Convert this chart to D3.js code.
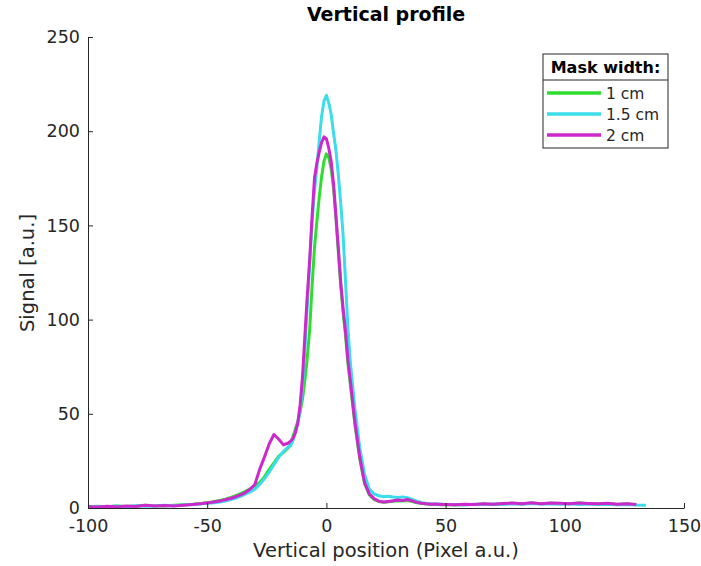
<!DOCTYPE html>
<html>
<head>
<meta charset="utf-8">
<script src="https://cdn.jsdelivr.net/npm/d3@7"></script>
<style>
  body { margin: 0; background: white; }
  svg text { font-family: "DejaVu Sans", sans-serif; fill: #262626; }
</style>
</head>
<body>
<div class="chart"></div>
<script>
// pixel positions shared by the three profiles
const positions = [
  -100, -96, -92, -88, -84, -80, -76, -72, -68, -64, -60, -56, -52, -48, -44,
  -42, -40, -38, -36, -34, -32, -30, -28, -26, -24, -22, -20, -18, -16,
  -15, -14, -13, -12, -11, -10, -9, -8, -7, -6, -5, -4, -3, -2, -1, 0, 1, 2, 3, 4, 5, 6, 7, 8, 9, 10,
  12, 14, 16, 18, 20, 22, 24, 26, 28, 30, 32, 34, 36, 38, 40, 42, 44, 46, 48, 50,
  54, 58, 62, 66, 70, 74, 78, 82, 86, 90, 94, 98, 102, 106, 110, 114, 118, 122, 126, 130, 134
];

const mask1cm = [
  0.6, 0.9, 0.7, 1.1, 0.8, 1.0, 1.5, 1.2, 1.1, 1.4, 1.7, 2.0, 2.5, 3.2, 4.2,
  4.8, 5.6, 6.6, 7.6, 8.8, 10.2, 11.8, 13.5, 16.5, 20.5, 24, 27.5, 29.5, 32,
  34, 38, 42, 46, 51, 58, 68, 80, 95, 118, 138, 152, 165, 176, 184, 188, 186, 180, 170, 154, 136, 118, 104, 92, 77, 66,
  44, 26, 13, 7, 4.5, 3.5, 3.0, 3.3, 3.6, 3.8, 3.7, 4.0, 3.4, 2.8, 2.4, 2.1, 1.9, 2.0, 1.7, 1.8,
  1.6, 1.9, 1.8, 2.1, 1.9, 2.3, 2.5, 2.1, 2.6, 2.2, 2.5, 2.4, 2.2, 2.6, 2.3, 2.1, 2.4, 1.9, 2.2, 1.7, null
];

const mask15cm = [
  0.5, 0.8, 0.6, 1.0, 0.7, 1.2, 0.9, 1.1, 1.4, 1.2, 1.6, 1.8, 2.2, 2.6, 3.3,
  3.8, 4.5, 5.3, 6.2, 7.3, 8.5, 10, 12.5, 15.5, 19, 23, 27, 30, 32.5,
  33, 36, 40, 45, 52, 65, 85, 108, 130, 152, 168, 181, 195, 208, 216, 219, 215, 209, 199, 190, 177, 162, 145, 121, 96, 78,
  52, 32, 18, 10, 7.5, 6.5, 6.0, 6.2, 5.8, 5.6, 5.9, 5.5, 4.6, 3.6, 2.8, 2.4, 2.2, 2.0, 2.1, 1.8,
  1.9, 1.6, 2.0, 1.8, 2.1, 1.9, 2.2, 2.0, 2.4, 2.1, 2.3, 2.0, 2.2, 1.9, 2.1, 1.8, 2.0, 1.7, 1.9, 1.6, 1.5
];

const mask2cm = [
  0.7, 0.5, 0.9, 0.6, 1.1, 0.8, 1.4, 1.0, 1.3, 1.1, 1.5, 1.9, 2.4, 3.0, 3.9,
  4.5, 5.2, 6.0, 7.0, 8.2, 10, 12.5, 20.5, 27, 34, 39, 36.5, 33.5, 34.5,
  35.5, 37, 40, 45, 55, 70, 92, 113, 132, 155, 175, 183, 189, 194, 197, 196, 191, 184, 172, 155, 138, 120, 106, 94, 79, 68,
  45, 27, 13.5, 7.5, 5, 3.6, 3.2, 3.5, 3.8, 4.2, 4.0, 4.5, 3.8, 3.0, 2.5, 2.2, 2.0, 2.1, 1.8, 1.9,
  1.7, 2.0, 1.9, 2.2, 2.0, 2.4, 2.6, 2.2, 2.8, 2.3, 2.6, 2.5, 2.3, 2.7, 2.4, 2.2, 2.5, 2.0, 2.3, 1.8, null
];

const seriesNames = ['1 cm', '1.5 cm', '2 cm'];
const seriesValues = [mask1cm, mask15cm, mask2cm];
const colors = ['#30dc30', '#3cdcea', '#cc28cc'];

const xTicks = [-100, -50, 0, 50, 100, 150];
const yTicks = [0, 50, 100, 150, 200, 250];

const w = 701;
const h = 566;

const svg = d3.select('.chart').append('svg').attr('width', w).attr('height', h).style('background-color', 'white');

const xScale = d3.scaleLinear().domain([-100, 150]).range([88, 684]);
const yScale = d3.scaleLinear().domain([0, 250]).range([508, 37]);

const line = d3.line()
  .defined((d) => d[1] !== null)
  .x((d) => xScale(d[0]))
  .y((d) => yScale(d[1]));

seriesValues.forEach((vals, i) => {
  svg.append('path')
    .datum(positions.map((p, j) => [p, vals[j]]))
    .attr('d', line)
    .attr('fill', 'none')
    .attr('stroke', colors[i])
    .attr('stroke-width', 3)
    .attr('stroke-linejoin', 'round');
});

// plain hyphen for negatives, like the original figure
const fmt = (d) => String(d);

const xAxis = svg.append('g').attr('transform', 'translate(0, 508)')
  .call(d3.axisBottom(xScale).tickValues(xTicks).tickFormat(fmt).tickSizeInner(-5).tickSizeOuter(0).tickPadding(12));
const yAxis = svg.append('g').attr('transform', 'translate(88, 0)')
  .call(d3.axisLeft(yScale).tickValues(yTicks).tickFormat(fmt).tickSizeInner(-5).tickSizeOuter(0).tickPadding(8));

[xAxis, yAxis].forEach((g) => {
  g.selectAll('path, line').attr('stroke', '#262626').attr('stroke-width', 1);
  g.selectAll('text').style('font-family', '"DejaVu Sans", sans-serif').style('font-size', '17.5px').attr('fill', '#262626');
});

svg.append('text').attr('x', 386).attr('y', 21).attr('text-anchor', 'middle')
  .style('font-size', '19px').style('font-weight', 'bold').style('fill', '#000').text('Vertical profile');

svg.append('text').attr('x', 386).attr('y', 557).attr('text-anchor', 'middle')
  .style('font-size', '19.5px').text('Vertical position (Pixel a.u.)');

svg.append('text').attr('transform', 'translate(34, 273) rotate(-90)').attr('text-anchor', 'middle')
  .style('font-size', '19.5px').text('Signal [a.u.]');

// legend
const legend = svg.append('g').attr('transform', 'translate(543, 54)');
legend.append('rect').attr('width', 125).attr('height', 94).attr('fill', 'white').attr('stroke', '#262626');
legend.append('line').attr('x1', 0).attr('x2', 125).attr('y1', 26).attr('y2', 26).attr('stroke', '#262626');
legend.append('text').attr('x', 62.5).attr('y', 19).attr('text-anchor', 'middle')
  .style('font-size', '16px').style('font-weight', 'bold').style('fill', '#000').text('Mask width:');

seriesNames.forEach((name, i) => {
  const yy = 39 + i * 21;
  legend.append('line').attr('x1', 4).attr('x2', 58).attr('y1', yy).attr('y2', yy)
    .attr('stroke', colors[i]).attr('stroke-width', 3.5);
  legend.append('text').attr('x', 63).attr('y', yy + 5.5).style('font-size', '15.5px').text(name);
});
</script>
</body>
</html>
